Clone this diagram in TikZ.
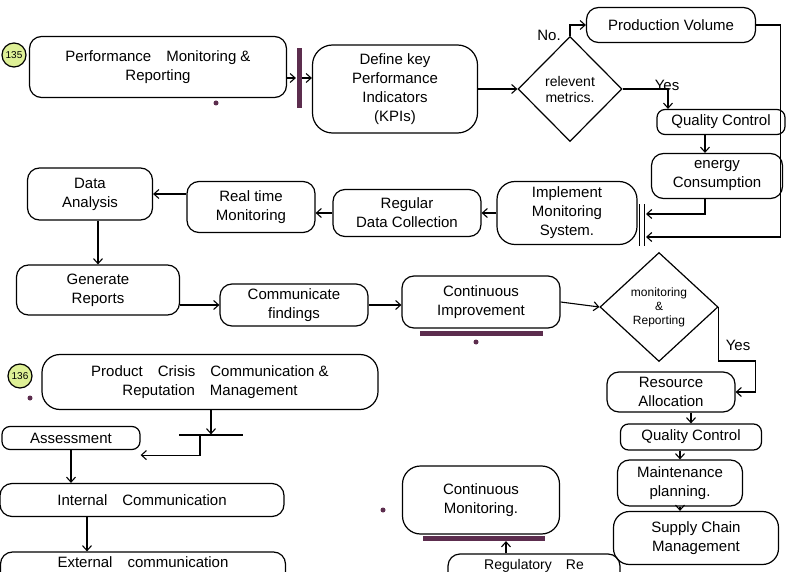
\documentclass[tikz,border=0pt]{standalone}
\usepackage{fontspec}
\setmainfont{Liberation Sans}
\definecolor{barpurple}{RGB}{92, 45, 78}
\definecolor{badgelime}{RGB}{222, 240, 150}
\usetikzlibrary{shapes, arrows.meta, positioning, calc}

\tikzset{
  box/.style={draw, rounded corners=12pt, align=center, inner sep=2pt, line width=1.2pt, font=\fontsize{15}{19}\selectfont},
  smallbox/.style={box, rounded corners=8pt},
  decision/.style={draw, diamond, align=center, inner sep=0pt, line width=1.2pt, font=\fontsize{14}{16}\selectfont},
  arr/.style={-{Straight Barb[length=5pt,width=9pt]}, line width=1.1pt},
  bar/.style={fill=barpurple, inner sep=0pt},
  badge/.style={circle, draw, fill=badgelime, inner sep=1pt, minimum size=24pt, font=\fontsize{10}{12}\selectfont},
  lbl/.style={font=\fontsize{15}{17}\selectfont, inner sep=1pt},
  blob/.style={circle, fill=barpurple, inner sep=0pt, minimum size=5pt},
}

\begin{document}
\begin{tikzpicture}[x=1pt, y=-1pt, line width=1.2pt]
  \fill[white] (0,0) rectangle (790,572);
  \useasboundingbox (0,0) rectangle (790,572);

  % 135 : performance monitoring & reporting
  \node[badge] (badgeA) at (14,55) {135};
  \node[box, minimum width=257pt, minimum height=61pt] (perfrep) at (158,67) {Performance\quad Monitoring \&\\Reporting};
  \node[bar, minimum width=5pt, minimum height=60pt] (kpibar) at (299,78) {};
  \node[box, minimum width=165pt, minimum height=88pt, rounded corners=20pt] (kpi) at (395,89) {Define key\\Performance\\Indicators\\(KPIs)};
  \node[decision, minimum width=104pt, minimum height=105pt] (relev) at (570,89) {relevent\\metrics.};
  \node[box, minimum width=169pt, minimum height=35pt] (prodvol) at (671,25) {Production Volume};
  \node[smallbox, minimum width=128pt, minimum height=25pt] (qcA) at (721,122) {Quality Control};
  \node[box, minimum width=131pt, minimum height=45pt] (energy) at (717,176) {energy\\Consumption};
  \node[box, minimum width=140pt, minimum height=63pt, rounded corners=18pt] (implement) at (567,213) {Implement\\Monitoring\\System.};
  \node[box, minimum width=148pt, minimum height=47pt] (regdata) at (407,213) {Regular\\Data Collection};
  \node[box, minimum width=128pt, minimum height=51pt] (realtime) at (251,207) {Real time\\Monitoring};
  \node[box, minimum width=125pt, minimum height=52pt] (analysis) at (90,194) {Data\\Analysis};
  \node[box, minimum width=163pt, minimum height=50pt] (genrep) at (98,290) {Generate\\Reports};
  \node[box, minimum width=148pt, minimum height=42pt] (commfind) at (294,305) {Communicate\\findings};
  \node[box, minimum width=158pt, minimum height=52pt] (contimp) at (481,302) {Continuous\\Improvement};
  \node[bar, minimum width=123pt, minimum height=5pt] (cibar) at (481,333) {};
  \node[decision, minimum width=118pt, minimum height=109pt, font=\fontsize{12}{14}\selectfont] (mrdiam) at (659,307) {monitoring\\\&\\Reporting};
  \node[box, minimum width=128pt, minimum height=40pt] (resalloc) at (671,392) {Resource\\Allocation};
  \node[smallbox, minimum width=141pt, minimum height=26pt] (qcB) at (691,437) {Quality Control};
  \node[box, minimum width=125pt, minimum height=46pt] (maint) at (680,483) {Maintenance\\planning.};
  \node[box, minimum width=165pt, minimum height=53pt, rounded corners=16pt] (supply) at (696,538) {Supply Chain\\Management};

  \node[lbl] (nolbl) at (549,35) {No.};
  \node[lbl] (yeslblA) at (667,85) {Yes};
  \node[lbl] (yeslblB) at (738,345) {Yes};

  \node[inner sep=0pt, minimum width=4pt, minimum height=40pt] (joinbar) at (642,225) {};
  \draw (joinbar.north west) -- (joinbar.south west) (joinbar.north east) -- (joinbar.south east);
  \coordinate (joinA) at (646,214);
  \coordinate (joinB) at (646,237);

  \draw[arr] (perfrep.east |- kpibar) -- (kpibar.west);
  \draw[arr] (kpibar.east) -- (kpi.west |- kpibar);
  \draw[arr] (kpi.east) -- (relev.west);
  \draw[arr] (relev.north) |- (prodvol.west);
  \draw[arr] (relev.east) -| ([xshift=-53pt]qcA.north);
  \draw[arr] (prodvol.east) -- ++(24,0) |- (joinB);
  \draw[arr] (qcA.south -| energy.north) ++(-12,0) -- ([xshift=-12pt]energy.north);
  \draw[arr] ([xshift=-12pt]energy.south) |- (joinA);
  \draw[arr] (implement.west) -- (regdata.east);
  \draw[arr] (regdata.west) -- (regdata.west -| realtime.east);
  \draw[arr] (realtime.west |- analysis.east) -- (analysis.east);
  \draw[arr] (genrep.north |- analysis.south) -- (genrep.north);
  \draw[arr] (genrep.east |- commfind) -- (commfind.west);
  \draw[arr] (commfind.east) -- (commfind.east -| contimp.west);
  \draw[arr] (contimp.east) -- (mrdiam.west);
  \draw[arr] (mrdiam.east) -- ++(0,54) -- ++(37,0) |- (resalloc.east);
  \draw[arr] (qcB.north |- resalloc.south) -- (qcB.north);
  \draw[arr] (maint.north |- qcB.south) -- (maint.north);
  \draw[arr] (maint.south) -- (maint.south |- supply.north);

  \node[blob] (dotA) at (216,103) {};
  \node[blob] (dotB) at (476,342) {};

  % 136 : product crisis communication
  \node[badge] (badgeB) at (20,376) {136};
  \node[blob] (dotC) at (30,398) {};
  \node[box, minimum width=336pt, minimum height=55pt, rounded corners=18pt] (pccrm) at (210,382) {Product\quad Crisis\quad Communication \&\\Reputation\quad Management};
  \node[inner sep=0pt, minimum width=62pt, minimum height=0pt] (splitbar) at (211,435) {};
  \draw (splitbar.west) -- (splitbar.east);
  \node[smallbox, minimum width=138pt, minimum height=23pt] (assess) at (71,438) {Assessment};
  \node[box, minimum width=284pt, minimum height=33pt] (internal) at (142,500) {Internal\quad Communication};
  \node[box, minimum width=285pt, minimum height=40pt] (external) at (143,572) {External\quad communication\\\mbox{}};
  \node[box, minimum width=157pt, minimum height=68pt, rounded corners=18pt] (contmon) at (481,500) {Continuous\\Monitoring.};
  \node[bar, minimum width=122pt, minimum height=5pt] (cmbar) at (484,538) {};
  \node[blob] (dotD) at (383,510) {};
  \node[box, minimum width=172pt, minimum height=38pt, font=\fontsize{14}{17}\selectfont] (regrep) at (534,573) {Regulatory\quad Re\\\mbox{}};

  \draw[arr] (pccrm.south -| splitbar) -- (splitbar);
  \draw[arr] ([xshift=-11pt]splitbar.center) |- ([yshift=-5pt]assess.south east);
  \draw[arr] (assess.south) -- (assess.south |- internal.north);
  \draw[arr] ([xshift=-55pt]internal.south) -- ([xshift=-55pt]internal.south |- external.north);
  \draw[arr] ([xshift=-28pt]regrep.north) -- ([xshift=-28pt]regrep.north |- cmbar.south);
\end{tikzpicture}
\end{document}
